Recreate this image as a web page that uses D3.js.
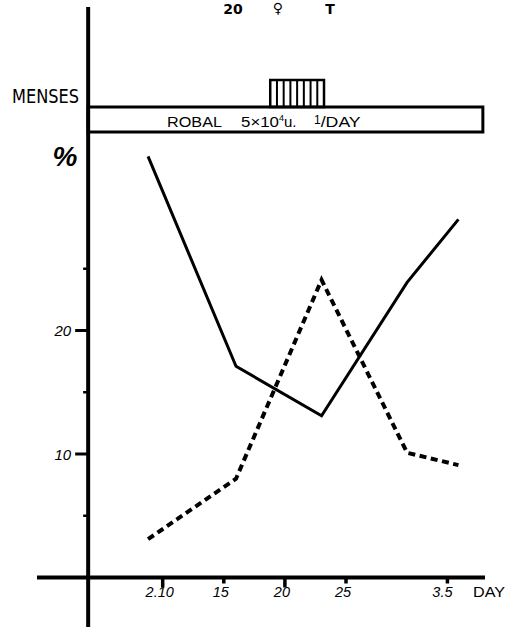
<!DOCTYPE html>
<html><head><meta charset="utf-8">
<script src="https://cdn.jsdelivr.net/npm/d3@7"></script>
<style>
html,body{margin:0;padding:0;background:#fff;}
svg{display:block;}
</style></head>
<body>
<script>
// ---- data ----
const days = [8.8, 16.0, 23.0, 30.0, 34.2];              // day index (Feb 10 = 10)
const solidSeries = [34.1, 17.1, 13.1, 23.9, 29.0];       // %
const dashedSeries = [3.1, 8.0, 24.1, 10.1, 9.1];         // %
const xTickValues = [10, 15, 20, 25, 33.3];
const xTickLabels = ["2.10", "15", "20", "25", "3.5"];
const xMajor = [10, 20];
const yTickValues = [5, 10, 15, 20, 25];
const yTickLabels = {10: "10", 20: "20"};
const yMajor = [10, 20];
const mensesRange = [18.8, 23.2];
const robalRange = [3.9, 36.2];
const robalLabel = ["ROBAL", "5×10", "4", "u.", "1", "/DAY"];
const titleParts = ["20", "♀", "T"];

const W = 509, H = 628;
const svg = d3.select("body").append("svg").attr("width", W).attr("height", H);

const x = d3.scaleLinear().domain([10, 25]).range([162.7, 346]);
const y = d3.scaleLinear().domain([0, 20]).range([577.5, 330.5]);

const ink = "#000";
const narrow = "'Liberation Sans Narrow','DejaVu Sans Condensed','Liberation Sans',sans-serif";

// ---- title (only lower part visible in the original) ----
const tg = svg.append("g").attr("font-family", "'DejaVu Sans',sans-serif").attr("font-weight", "bold").attr("font-size", 14).attr("fill", ink);
tg.append("text").attr("x", 233).attr("y", 14).attr("text-anchor", "middle").text(titleParts[0]);
tg.append("text").attr("x", 278).attr("y", 13).attr("text-anchor", "middle").text(titleParts[1]);
tg.append("text").attr("x", 330).attr("y", 14).attr("text-anchor", "middle").text(titleParts[2]);

// ---- axes ----
const yAxisX = x(robalRange[0]);
const y0 = y(0);
svg.append("line").attr("x1", yAxisX).attr("x2", yAxisX).attr("y1", 7).attr("y2", 627)
  .attr("stroke", ink).attr("stroke-width", 4);
svg.append("line").attr("x1", 37).attr("x2", 485).attr("y1", y0).attr("y2", y0)
  .attr("stroke", ink).attr("stroke-width", 4);

// y ticks
svg.append("g").selectAll("line").data(yTickValues).join("line")
  .attr("x1", d => yAxisX - (yMajor.includes(d) ? 13 : 5))
  .attr("x2", yAxisX)
  .attr("y1", d => y(d)).attr("y2", d => y(d))
  .attr("stroke", ink).attr("stroke-width", d => yMajor.includes(d) ? 3 : 2.5);
svg.append("g").selectAll("text").data(yTickValues.filter(d => yTickLabels[d])).join("text")
  .attr("x", yAxisX - 17).attr("y", d => y(d) + 5.5)
  .attr("text-anchor", "end")
  .attr("font-family", "'Liberation Sans',sans-serif").attr("font-style", "italic")
  .attr("font-size", 15).attr("fill", ink)
  .text(d => yTickLabels[d]);

// % label
svg.append("text").attr("x", 65).attr("y", 166).attr("text-anchor", "middle")
  .attr("font-family", "'Liberation Sans',sans-serif").attr("font-style", "italic").attr("font-weight", "bold")
  .attr("font-size", 28).attr("fill", ink).text("%");

// x ticks
svg.append("g").selectAll("line").data(xTickValues).join("line")
  .attr("x1", d => x(d)).attr("x2", d => x(d))
  .attr("y1", y0).attr("y2", d => y0 + (xMajor.includes(d) ? 10 : 6))
  .attr("stroke", ink).attr("stroke-width", 3.5);
svg.append("g").selectAll("text").data(xTickValues).join("text")
  .attr("x", (d, i) => x(d) - (i === xTickValues.length - 1 ? 5 : 3)).attr("y", y0 + 19)
  .attr("text-anchor", "middle")
  .attr("font-family", "'Liberation Sans',sans-serif").attr("font-style", "italic")
  .attr("font-size", 14.5).attr("fill", ink)
  .text((d, i) => xTickLabels[i]);
svg.append("text").attr("x", 473).attr("y", y0 + 19)
  .attr("font-family", "'Liberation Sans',sans-serif").attr("font-size", 15).attr("fill", ink)
  .attr("textLength", 32).attr("lengthAdjust", "spacingAndGlyphs").text("DAY");

// ---- ROBAL box & menses ----
const boxTop = 107, boxBot = 132;
svg.append("rect").attr("x", x(robalRange[0])).attr("y", boxTop)
  .attr("width", x(robalRange[1]) - x(robalRange[0])).attr("height", boxBot - boxTop)
  .attr("fill", "none").attr("stroke", ink).attr("stroke-width", 3);

const rl = svg.append("g").attr("font-family", "'Liberation Sans',sans-serif").attr("font-size", 15).attr("fill", ink);
rl.append("text").attr("x", 167).attr("y", 127).attr("textLength", 55).attr("lengthAdjust", "spacingAndGlyphs").text(robalLabel[0]);
const t2 = rl.append("text").attr("x", 241).attr("y", 127);
t2.append("tspan").attr("textLength", 38).attr("lengthAdjust", "spacingAndGlyphs").text(robalLabel[1]);
t2.append("tspan").attr("dy", -6).attr("font-size", 9).text(robalLabel[2]);
t2.append("tspan").attr("dy", 6).text(robalLabel[3]);
const t3 = rl.append("text").attr("x", 314).attr("y", 127);
t3.append("tspan").attr("dy", -3).attr("font-size", 12).text(robalLabel[4]);
t3.append("tspan").attr("dy", 3).attr("textLength", 40).attr("lengthAdjust", "spacingAndGlyphs").text(robalLabel[5]);

const mTop = 80;
const mx0 = x(mensesRange[0]), mx1 = x(mensesRange[1]);
svg.append("rect").attr("x", mx0).attr("y", mTop).attr("width", mx1 - mx0).attr("height", boxTop - mTop)
  .attr("fill", "none").attr("stroke", ink).attr("stroke-width", 2.5);
const hatch = d3.range(1, 8).map(i => mensesRange[0] + i * (mensesRange[1] - mensesRange[0]) / 8);
svg.append("g").selectAll("line").data(hatch).join("line")
  .attr("x1", d => x(d)).attr("x2", d => x(d)).attr("y1", mTop).attr("y2", boxTop)
  .attr("stroke", ink).attr("stroke-width", 2);

svg.append("text").attr("x", 12).attr("y", 103)
  .attr("font-family", narrow).attr("font-size", 20).attr("fill", ink)
  .attr("textLength", 67).attr("lengthAdjust", "spacingAndGlyphs").text("MENSES");

// ---- lines ----
const line = d3.line().x((d, i) => x(days[i])).y(d => y(d));
svg.append("path").datum(solidSeries).attr("d", line)
  .attr("fill", "none").attr("stroke", ink).attr("stroke-width", 3).attr("stroke-linejoin", "miter");
svg.append("path").datum(dashedSeries).attr("d", line)
  .attr("fill", "none").attr("stroke", ink).attr("stroke-width", 4)
  .attr("stroke-dasharray", "7,4.5").attr("stroke-linejoin", "miter");
</script>
</body></html>
